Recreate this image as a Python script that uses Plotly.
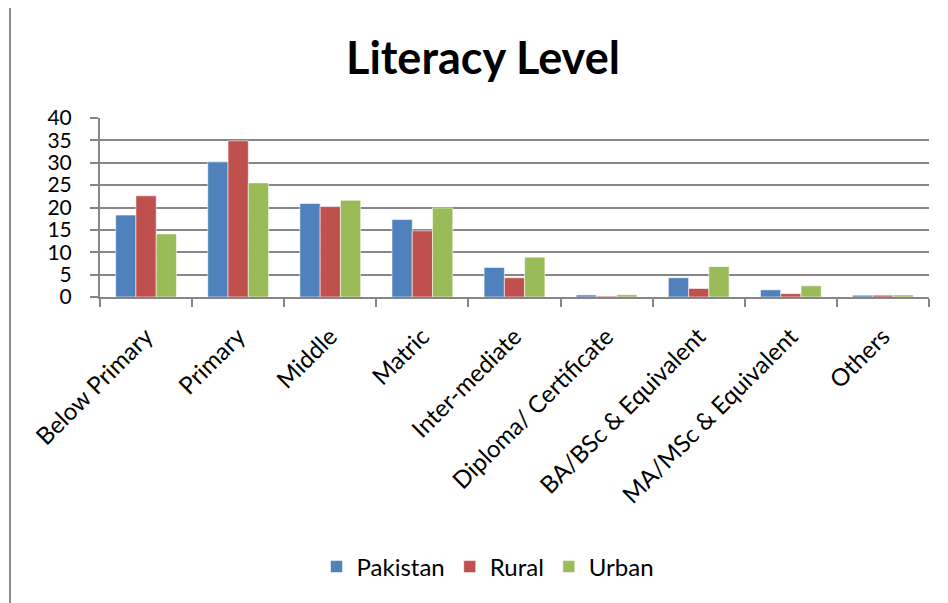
import plotly.graph_objects as go

categories = ["Below Primary", "Primary", "Middle", "Matric", "Inter-mediate",
              "Diploma/ Certificate", "BA/BSc & Equivalent", "MA/MSc & Equivalent", "Others"]
pakistan = [18.3, 30.2, 20.9, 17.3, 6.6, 0.45, 4.3, 1.6, 0.4]
rural = [22.6, 34.9, 20.2, 14.8, 4.3, 0.2, 1.9, 0.75, 0.4]
urban = [14.1, 25.5, 21.6, 19.9, 8.9, 0.5, 6.8, 2.5, 0.45]
y_ticks = [0, 5, 10, 15, 20, 25, 30, 35, 40]

W, H = 948, 603
OFF = 8  # page body margin in the browser
# plot-area edges in screen pixels
X0, X1, Y0, Y1 = 100, 929, 118, 297
L = X0 - OFF
T = Y0 - OFF
R = W - (X1 - OFF)
B = H - (Y1 - OFF)
PW = X1 - X0
PH = Y1 - Y0

def px_x(p):
    return (p - X0) / PW

def px_y(p):
    return (Y1 - p) / PH

FONT = "Lato"
fig = go.Figure()
for name, vals, col in [("Pakistan", pakistan, "#4F81BD"),
                        ("Rural", rural, "#C0504D"),
                        ("Urban", urban, "#9BBB59")]:
    fig.add_trace(go.Bar(name=name, x=categories, y=vals,
                         marker=dict(color=col, line=dict(color="rgba(255,255,255,0.55)", width=1))))

grid = "#868686"
fig.update_layout(
    width=W, height=H,
    margin=dict(l=L, r=R, t=T, b=B, autoexpand=False),
    paper_bgcolor="white", plot_bgcolor="white",
    barmode="group", bargap=0.34, bargroupgap=0,
    font=dict(family=FONT, color="black", size=22),
    showlegend=True,
    legend=dict(orientation="h", x=px_x(488), xanchor="center", y=px_y(567), yanchor="middle",
                font=dict(size=24, family=FONT), itemwidth=30, traceorder="normal"),
    xaxis=dict(showline=True, linecolor=grid, linewidth=2, ticks="outside", ticklen=8,
               tickcolor=grid, tickwidth=2, tickson="boundaries", tickangle=-45,
               tickfont=dict(size=24, family=FONT), showgrid=False, ticklabelstandoff=14,
               automargin=False),
    yaxis=dict(range=[0, 40], tickvals=y_ticks, showline=True, linecolor=grid, linewidth=2,
               ticks="outside", ticklen=8, tickcolor=grid, tickwidth=2,
               showgrid=True, gridcolor=grid, gridwidth=2, zeroline=False,
               tickfont=dict(size=21, family=FONT), ticklabelstandoff=14, automargin=False),
    annotations=[dict(text="<b>Literacy Level</b>", xref="paper", yref="paper",
                      x=px_x(483), y=px_y(57), xanchor="center", yanchor="middle",
                      showarrow=False, font=dict(size=45, family=FONT, color="black"))],
    shapes=[
        dict(type="line", xref="paper", yref="paper", x0=px_x(10), x1=px_x(10),
             y0=px_y(5), y1=px_y(640), line=dict(color="#8c8c8c", width=2)),
        dict(type="line", xref="paper", yref="paper", x0=px_x(10), x1=px_x(980),
             y0=px_y(5), y1=px_y(5), line=dict(color="#8c8c8c", width=2)),
    ],
)

fig.write_html("out.html")
